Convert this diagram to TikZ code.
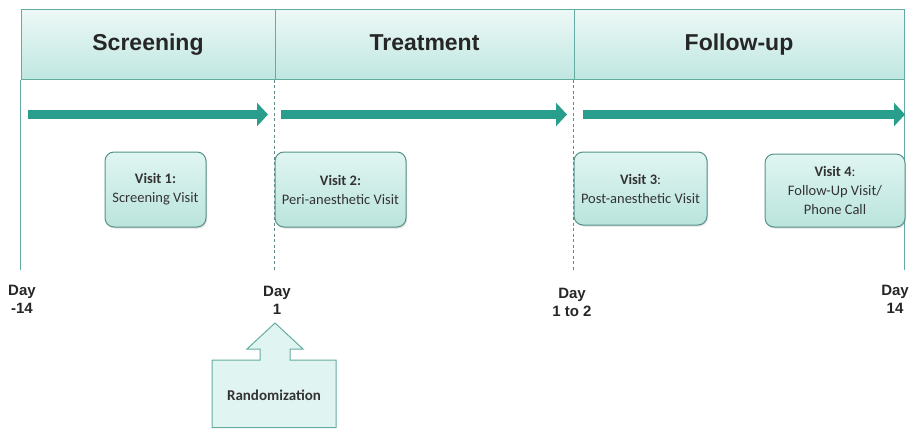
\documentclass[tikz,border=0pt]{standalone}
\usepackage{fontspec}
\setmainfont{Liberation Sans}
\newfontfamily\calfont{Carlito}
\usetikzlibrary{arrows.meta,shadows}

\definecolor{tealline}{RGB}{100,172,162}
\definecolor{tealdark}{RGB}{42,158,140}
\definecolor{headtop}{RGB}{236,248,246}
\definecolor{headbot}{RGB}{192,231,225}
\definecolor{boxtop}{RGB}{224,245,241}
\definecolor{boxbot}{RGB}{186,228,221}
\definecolor{dashgrey}{RGB}{95,140,135}

\tikzset{
    phasehead/.style={draw=tealline,line width=1pt,top color=headtop,bottom color=headbot,
        minimum height=69pt,inner sep=0pt,text=black!85,text height=17pt,text depth=5pt,
        font=\fontsize{23}{27}\selectfont\bfseries},
    visitbox/.style={draw=tealline!85!black,line width=1pt,rounded corners=9pt,
        top color=boxtop,bottom color=boxbot,minimum height=75pt,inner sep=0pt,
        align=center,text=black!80,font=\calfont\fontsize{14.5}{19}\selectfont,
        drop shadow={opacity=0.25,shadow xshift=1pt,shadow yshift=-1.5pt}},
    daylabel/.style={align=center,text=black!85,font=\fontsize{15}{18}\selectfont\bfseries},
    phasearrow/.style={draw=tealdark,line width=9pt,-{Triangle[length=11pt,width=23pt]}},
    dayline/.style={tealline,line width=1.2pt},
    daydash/.style={dashgrey,line width=1pt,dash pattern=on 3pt off 2.5pt}
}

\begin{document}
\begin{tikzpicture}[x=1pt,y=-1pt]
    \useasboundingbox (0,0) rectangle (909,428);

    % phases
    \node[phasehead,minimum width=254pt] (scr) at (148,44.5) {Screening};
    \node[phasehead,minimum width=299pt] (trt) at (424.5,44.5) {Treatment};
    \node[phasehead,minimum width=330pt] (fol) at (739,44.5) {Follow-up};

    % days
    \node[daylabel] (dm14) at (22,299) {Day\\-14};
    \node[daylabel] (d1) at (277,300) {Day\\1};
    \node[daylabel] (d12) at (572,302) {Day\\1 to 2};
    \node[daylabel] (d14) at (895,299) {Day\\14};

    \coordinate (e0) at (scr.south west |- 0,270);
    \coordinate (e1) at (trt.south west |- 0,270);
    \coordinate (e2) at (fol.south west |- 0,270);
    \coordinate (e3) at (fol.south east |- 0,270);
    \draw[dayline] (scr.south west) -- (e0);
    \draw[daydash] (trt.south west) -- (e1);
    \draw[daydash] (fol.south west) -- (e2);
    \draw[dayline] (fol.south east) -- (e3);

    % arrows
    \coordinate (a0) at (28,114.5);
    \coordinate (b0) at (268,114.5);
    \coordinate (a1) at (281,114.5);
    \coordinate (b1) at (567,114.5);
    \coordinate (a2) at (583,114.5);
    \coordinate (b2) at (905,114.5);
    \draw[phasearrow] (a0) -- (b0);
    \draw[phasearrow] (a1) -- (b1);
    \draw[phasearrow] (a2) -- (b2);

    % visits
    \node[visitbox,minimum width=101pt] (v1) at (155.5,189.5) {\textbf{Visit 1:}\\Screening Visit};
    \node[visitbox,minimum width=131pt] (v2) at (340.5,189.5) {\textbf{Visit 2:}\\Peri-anesthetic Visit};
    \node[visitbox,minimum width=133pt,minimum height=73pt] (v3) at (640.5,188.5) {\textbf{Visit 3}:\\Post-anesthetic Visit};
    \node[visitbox,minimum width=140pt,minimum height=73pt] (v4) at (835,190.5) {\textbf{Visit 4}:\\Follow-Up Visit/\\Phone Call};

    % randomization
    \draw[draw=tealline,line width=1pt,fill=boxtop]
        (275,323) -- (303,349) -- (290,349) -- (290,360) -- (336,360) -- (336,427.5)
        -- (212,427.5) -- (212,360) -- (260,360) -- (260,349) -- (247,349) -- cycle;
    \node[text=black!80,font=\calfont\fontsize{15}{18}\selectfont\bfseries] (rnd) at (274,395) {Randomization};
\end{tikzpicture}
\end{document}
